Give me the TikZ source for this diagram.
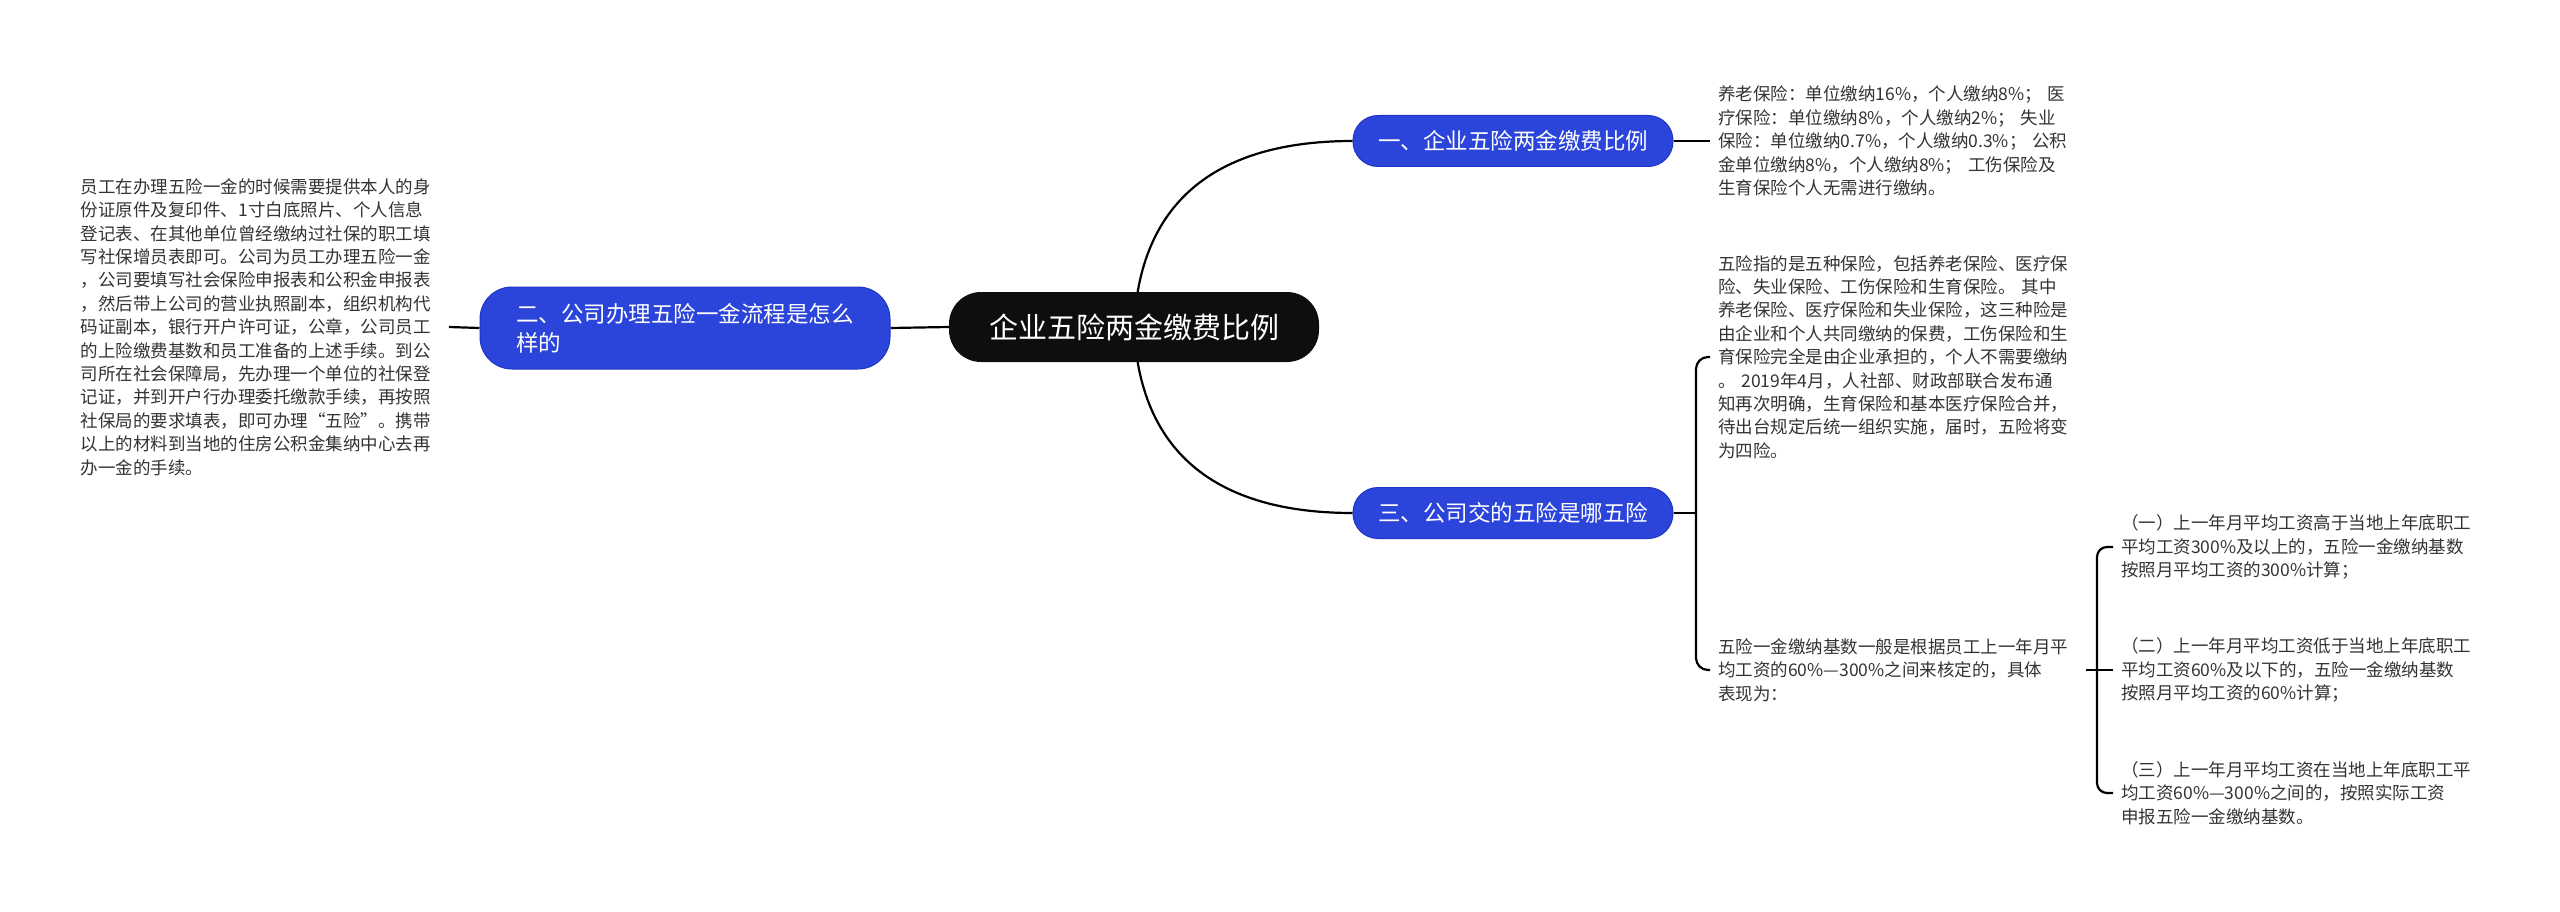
\documentclass[tikz,border=0pt]{standalone}
\usepackage{fontspec}
\setmainfont{Noto Sans CJK SC}
\usetikzlibrary{backgrounds}
\definecolor{branchblue}{HTML}{2B44D9}
\definecolor{branchedge}{HTML}{1F35C4}
\definecolor{rootblack}{HTML}{0E0E0E}
\definecolor{bodygray}{HTML}{333333}
\begin{document}
\begin{tikzpicture}[x=1pt,y=-1pt,
    root/.style={fill=rootblack, text=white, rounded corners=32pt, minimum height=70pt,
        minimum width=370pt, font=\fontsize{29}{34}\selectfont},
    branch/.style={fill=branchblue, draw=branchedge, line width=1pt, text=white,
        rounded corners=25pt, minimum height=51pt, font=\fontsize{22.5}{29}\selectfont},
    body/.style={text=bodygray, align=left, text width=360pt, inner xsep=8pt,
        inner ysep=0pt, font=\fontsize{17.5}{23.4}\selectfont},
    link/.style={draw=black, line width=2.2pt}]
        \useasboundingbox (0,0) rectangle (2560,912);

        \node[root] (root) at (1134,327) {企业五险两金缴费比例};

        \node[branch, minimum width=320pt] (one) at (1513,141) {一、企业五险两金缴费比例};
        \node[branch, minimum width=410pt, minimum height=82pt, align=left,
            rounded corners=32pt] (two) at (685,328) {二、公司办理五险一金流程是怎么\\样的};
        \node[branch, minimum width=320pt] (three) at (1513,513) {三、公司交的五险是哪五险};

        %%%%%%%%%% left
        \node[body, anchor=east] (guide) at (449,327) {员工在办理五险一金的时候需要提供本人的身\\
            份证原件及复印件、1寸白底照片、个人信息\\
            登记表、在其他单位曾经缴纳过社保的职工填\\
            写社保增员表即可。公司为员工办理五险一金\\
            ，公司要填写社会保险申报表和公积金申报表\\
            ，然后带上公司的营业执照副本，组织机构代\\
            码证副本，银行开户许可证，公章，公司员工\\
            的上险缴费基数和员工准备的上述手续。到公\\
            司所在社会保障局，先办理一个单位的社保登\\
            记证，并到开户行办理委托缴款手续，再按照\\
            社保局的要求填表，即可办理“五险”。携带\\
            以上的材料到当地的住房公积金集纳中心去再\\
            办一金的手续。};

        %%%%%%%%%% right
        \node[body, anchor=west] (rate) at (1710,141) {养老保险：单位缴纳16\%，个人缴纳8\%； 医\\
            疗保险：单位缴纳8\%，个人缴纳2\%； 失业\\
            保险：单位缴纳0.7\%，个人缴纳0.3\%； 公积\\
            金单位缴纳8\%，个人缴纳8\%； 工伤保险及\\
            生育保险个人无需进行缴纳。};
        \node[body, anchor=west] (kinds) at (1710,357) {五险指的是五种保险，包括养老保险、医疗保\\
            险、失业保险、工伤保险和生育保险。 其中\\
            养老保险、医疗保险和失业保险，这三种险是\\
            由企业和个人共同缴纳的保费，工伤保险和生\\
            育保险完全是由企业承担的，个人不需要缴纳\\
            。 2019年4月，人社部、财政部联合发布通\\
            知再次明确，生育保险和基本医疗保险合并，\\
            待出台规定后统一组织实施，届时，五险将变\\
            为四险。};
        \node[body, anchor=west] (basis) at (1710,670) {五险一金缴纳基数一般是根据员工上一年月平\\
            均工资的60\%—300\%之间来核定的，具体\\
            表现为：};

        \node[body, anchor=west] (high) at (2113,547) {（一）上一年月平均工资高于当地上年底职工\\
            平均工资300\%及以上的，五险一金缴纳基数\\
            按照月平均工资的300\%计算；};
        \node[body, anchor=west] (low) at (2113,670) {（二）上一年月平均工资低于当地上年底职工\\
            平均工资60\%及以下的，五险一金缴纳基数\\
            按照月平均工资的60\%计算；};
        \node[body, anchor=west] (middle) at (2113,793) {（三）上一年月平均工资在当地上年底职工平\\
            均工资60\%—300\%之间的，按照实际工资\\
            申报五险一金缴纳基数。};

        \coordinate (fork) at (1696,513);
        \coordinate (split) at (2097,670);

        \begin{scope}[on background layer]
            \draw[link] (root.center) .. controls (1140,190) and (1230,141) .. (one.west);
            \draw[link] (root.center) .. controls (1140,464) and (1230,513) .. (three.west);
            \draw[link] (root.west) -- (two.east);
            \draw[link] (guide.east) -- (two.west);
            \draw[link] (one.east) -- (rate.west);
            \draw[link] (three.east) -- (fork);
            \draw[link, rounded corners=12pt] (fork) |- (kinds.west);
            \draw[link, rounded corners=12pt] (fork) |- (basis.west);
            \draw[link] (basis.east) -- (low.west);
            \draw[link, rounded corners=10pt] (split) |- (high.west);
            \draw[link, rounded corners=10pt] (split) |- (middle.west);
        \end{scope}
    \end{tikzpicture}
\end{document}
